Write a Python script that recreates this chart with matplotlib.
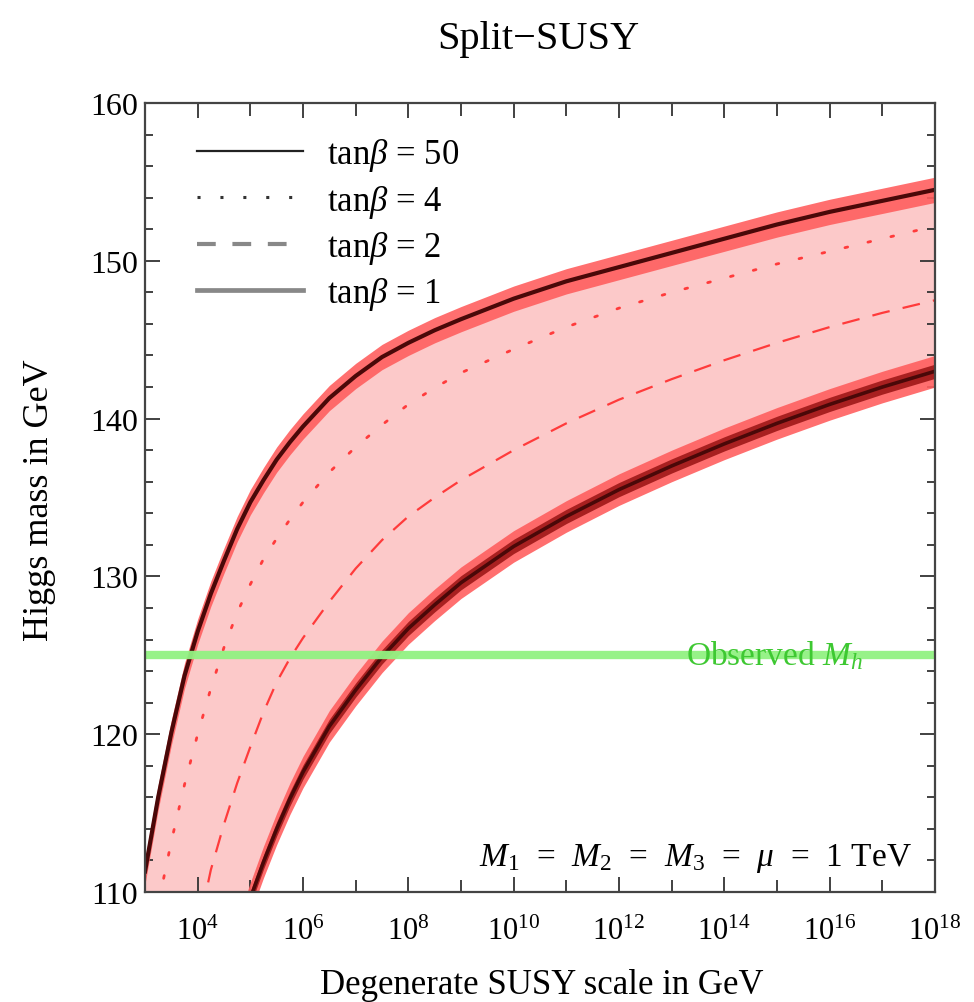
import numpy as np
import matplotlib
matplotlib.use("Agg")
import matplotlib.pyplot as plt
from matplotlib.lines import Line2D
from matplotlib.ticker import FixedLocator, NullFormatter

plt.rcParams['font.family'] = ['Liberation Serif', 'DejaVu Serif']
plt.rcParams['mathtext.fontset'] = 'custom'
plt.rcParams['mathtext.rm'] = 'Liberation Serif'
plt.rcParams['mathtext.it'] = 'Liberation Serif:italic'
plt.rcParams['mathtext.bf'] = 'Liberation Serif:bold'

# ---- data (log10 of SUSY scale in GeV, Higgs mass in GeV) ----
log_scale = [3.0, 3.25, 3.5, 3.75, 4.0, 4.25, 4.5, 4.75, 5.0, 5.25, 5.5, 5.75, 6.0,
             6.5, 7.0, 7.5, 8.0, 8.5, 9.0, 10.0, 11.0, 12.0, 13.0, 14.0, 15.0, 16.0, 17.0, 18.0]
mh_tb50 = [111.3, 116.0, 120.1, 123.7, 126.5, 128.9, 131.0, 133.0, 134.7, 136.1, 137.4, 138.5, 139.5,
           141.3, 142.7, 143.9, 144.8, 145.6, 146.3, 147.6, 148.7, 149.6, 150.5, 151.4, 152.3, 153.1, 153.8, 154.5]
mh_tb4 = [105.0, 109.2, 113.2, 116.8, 120.0, 122.9, 125.5, 127.7, 129.5, 131.1, 132.4, 133.6, 134.7,
          136.6, 138.2, 139.6, 140.9, 141.95, 142.9, 144.4, 145.8, 147.0, 148.0, 148.9, 149.8, 150.6, 151.4, 152.2]
mh_tb2 = [96.0, 99.0, 101.5, 104.5, 107.5, 111.4, 114.3, 116.9, 119.2, 121.4, 123.3, 124.8, 126.1,
          128.4, 130.5, 132.3, 133.8, 135.0, 136.1, 138.0, 139.7, 141.2, 142.5, 143.7, 144.8, 145.8, 146.7, 147.5]
mh_tb1 = [91.0, 94.0, 96.5, 99.0, 101.0, 102.9, 104.5, 107.2, 109.6, 111.9, 114.0, 115.9, 117.6,
          120.5, 122.8, 124.9, 126.7, 128.2, 129.6, 131.9, 133.8, 135.5, 137.0, 138.4, 139.7, 140.9, 142.0, 143.0]
err_tb50 = 0.8
err_tb1 = 1.0
mh_observed = 125.0
legend_labels = [r'tan$\beta$ = 50', r'tan$\beta$ = 4', r'tan$\beta$ = 2', r'tan$\beta$ = 1']

x = 10.0 ** np.array(log_scale)
u = np.array(mh_tb50)
l = np.array(mh_tb1)

fig = plt.figure(figsize=(9.74, 10.03), dpi=100)
ax = fig.add_axes([145 / 974, 1 - 893 / 1003, 790 / 974, 789 / 1003])
ax.set_xscale('log')

pink = '#fcc9c9'
bright = '#ff5f5f'
dark = '#4a0808'

ax.fill_between(x, l, u, color=pink, lw=0, zorder=1)
# tanβ=50 band
ax.fill_between(x, u - err_tb50, u + err_tb50, color=bright, lw=0, alpha=0.9, zorder=2)
ax.plot(x, u, color=dark, lw=3.0, zorder=4)
# tanβ=1 band
ax.fill_between(x, l - err_tb1, l + err_tb1, color=bright, lw=0, alpha=0.9, zorder=2)
ax.fill_between(x, l - 0.45, l + 0.45, color='#a82020', lw=0, zorder=3)
ax.plot(x, l, color=dark, lw=2.6, zorder=4)
# middle curves
ax.plot(x, mh_tb4, color='#ff3b3b', lw=2.0, ls=(0, (1, 7.5)), zorder=3, dash_capstyle='round')
ax.plot(x, mh_tb2, color='#ff3b3b', lw=1.6, ls=(0, (8, 6)), zorder=3)

# observed Higgs mass
ax.axhline(mh_observed, color='#92f282', lw=6.0, alpha=0.95, zorder=5)
ax.text(10 ** 13.28, mh_observed + 0.05, r'Observed $M_h$', color='#3ec832',
        fontsize=24, ha='left', va='center', zorder=6)

ax.text(10 ** 17.55, 112.2, r'$M_1$  =  $M_2$  =  $M_3$  =  $\mu$  =  1 TeV', fontsize=24,
        ha='right', va='center', zorder=6)

ax.set_xlim(1e3, 1e18)
ax.set_ylim(110, 160)

ax.xaxis.set_major_locator(FixedLocator([10.0 ** k for k in range(4, 19, 2)]))
ax.xaxis.set_minor_locator(FixedLocator([10.0 ** k for k in range(3, 18, 2)]))
ax.xaxis.set_minor_formatter(NullFormatter())
ax.set_xticklabels([r'$10^{%d}$' % k for k in range(4, 19, 2)])
ax.set_yticks([110, 120, 130, 140, 150, 160])
ax.set_yticks(np.arange(110, 161, 2), minor=True)

ax.tick_params(which='both', direction='in', top=True, right=True, color='#333333',
               width=1.3)
ax.tick_params(axis='y', labelsize=23)
ax.tick_params(axis='x', labelsize=22)
ax.tick_params(which='major', length=11)
ax.tick_params(axis='y', which='major', pad=5)
ax.tick_params(axis='x', which='major', pad=18)
ax.tick_params(which='minor', length=6)
ax.tick_params(axis='x', which='minor', length=9)
for s in ax.spines.values():
    s.set_color('#444444')
    s.set_linewidth(1.6)
    s.set_zorder(10)

fig.text(542 / 974, 1 - 985 / 1003, 'Degenerate SUSY scale in GeV', fontsize=25,
         ha='center', va='center')
fig.text(40 / 974, 1 - 500 / 1003, 'Higgs mass in GeV', fontsize=26, rotation=90,
         ha='center', va='center')
fig.text(538 / 974, 1 - 40 / 1003, 'Split\u2212SUSY', fontsize=29, ha='center', va='center')

handles = [
    Line2D([], [], color='#222222', lw=1.6),
    Line2D([], [], color='#333333', lw=2.2, ls=(0, (1, 6.5))),
    Line2D([], [], color='#888888', lw=3.0, ls=(0, (4.5, 4))),
    Line2D([], [], color='#888888', lw=3.4),
]
leg = ax.legend(handles, legend_labels, loc='upper left', frameon=False, fontsize=25,
                handlelength=3.05, handletextpad=0.7, labelspacing=0.27,
                borderpad=0, borderaxespad=0, bbox_to_anchor=(0.066, 0.958))
leg.set_zorder(8)

fig.savefig('out.png', dpi=100)
